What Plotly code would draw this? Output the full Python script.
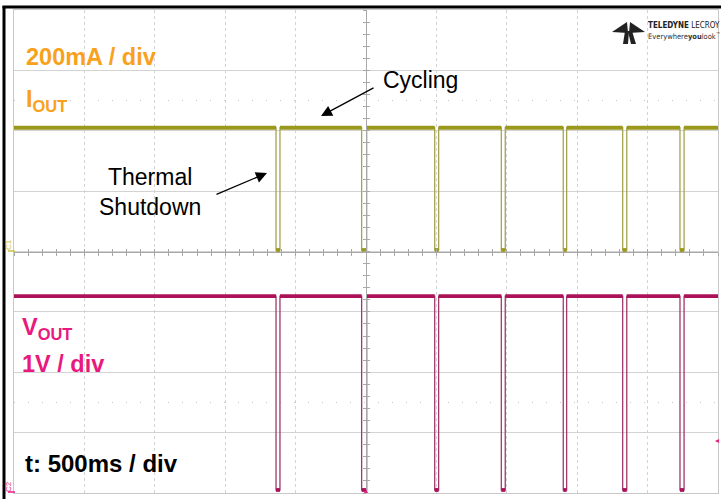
import plotly.graph_objects as go

# ---- data (read from the scope capture) ----
t_end = 5.0                      # s  (10 div x 500 ms)
dip_start = [1.861, 2.469, 2.988, 3.461, 3.901, 4.323, 4.730]   # s
dip_end = [1.889, 2.505, 3.016, 3.489, 3.925, 4.352, 4.759]     # s
iout_high = 0.41   # A
iout_low = 0.005   # A
vout_high = 3.21   # V
vout_low = 0.0     # V

IOUT_COLOR = "#9b991c"
IOUT_EDGE = "#a6a452"
VOUT_COLOR = "#ab1259"
VOUT_EDGE = "#a03a6e"
ORANGE = "#f9a11b"
MAGENTA = "#e8197e"
FONT = "Liberation Sans, Arial, sans-serif"


def waveform(hi, lo):
    t, y = [0.0], [hi]
    for s, e in zip(dip_start, dip_end):
        t += [s, s, e, e]
        y += [hi, lo, lo, hi]
    t.append(t_end)
    y.append(hi)
    return t, y


def flats(hi, lo):
    t, y = [], []
    prev = 0.0
    for s, e in zip(dip_start, dip_end):
        t += [prev, s, None, s, e, None]
        y += [hi, hi, None, lo, lo, None]
        prev = e
    t += [prev, t_end]
    y += [hi, hi]
    return t, y


fig = go.Figure()

ti, yi = waveform(iout_high, iout_low)
tf, yf = flats(iout_high, iout_low)
fig.add_trace(go.Scatter(x=ti, y=yi, mode="lines", line=dict(color=IOUT_EDGE, width=1.3),
                         yaxis="y", hoverinfo="skip", showlegend=False))
fig.add_trace(go.Scatter(x=tf, y=yf, mode="lines", line=dict(color=IOUT_COLOR, width=3.8),
                         yaxis="y", hoverinfo="skip", showlegend=False, connectgaps=False))

tv, yv = waveform(vout_high, vout_low)
tvf, yvf = flats(vout_high, vout_low)
fig.add_trace(go.Scatter(x=tv, y=yv, mode="lines", line=dict(color=VOUT_EDGE, width=1.3),
                         yaxis="y2", hoverinfo="skip", showlegend=False))
fig.add_trace(go.Scatter(x=tvf, y=yvf, mode="lines", line=dict(color=VOUT_COLOR, width=3.8),
                         yaxis="y2", hoverinfo="skip", showlegend=False, connectgaps=False))

L, R, T, B = 14, 3, 10, 6
W, H = 721, 499
PW, PH = W - L - R, H - T - B


def px(x):
    return (x - L) / PW


def py(y):
    return 1 - (y - T) / PH


grid = "#d3d3d3"
center = "#a8a8a8"

fig.update_layout(
    width=W, height=H,
    margin=dict(l=L, r=R, t=T, b=B, pad=0),
    paper_bgcolor="white", plot_bgcolor="white",
    font=dict(family=FONT),
    xaxis=dict(range=[0, t_end], dtick=0.5, tick0=0, showgrid=True, gridcolor=grid,
               griddash="dot", gridwidth=1, zeroline=False, showticklabels=False,
               ticks="", showline=True, linecolor="#c8c8c8", mirror=True, fixedrange=True),
    yaxis=dict(range=[-0.8, 0.8], dtick=0.2, tick0=0, showgrid=True, gridcolor=grid,
               zeroline=False, showticklabels=False, ticks="", showline=True,
               linecolor="#c8c8c8", mirror=True, fixedrange=True),
    yaxis2=dict(range=[-0.05, 7.95], overlaying="y", showgrid=False, zeroline=False,
                showticklabels=False, ticks="", visible=False, fixedrange=True),
    # centre cross with fine ticks
    xaxis2=dict(range=[0, t_end], overlaying="x", anchor="free", position=0.5,
                dtick=0.1, tick0=0, ticks="outside", ticklen=3, tickcolor=center,
                showline=True, linecolor=center, showgrid=False, zeroline=False,
                showticklabels=False, fixedrange=True),
    xaxis3=dict(range=[0, t_end], overlaying="x", anchor="free", position=0.5,
                dtick=0.1, tick0=0, ticks="inside", ticklen=3, tickcolor=center,
                showline=False, showgrid=False, zeroline=False,
                showticklabels=False, fixedrange=True),
    yaxis3=dict(range=[-0.8, 0.8], overlaying="y", anchor="free", position=0.5,
                dtick=0.04, tick0=0, ticks="outside", ticklen=3, tickcolor=center,
                showline=True, linecolor=center, showgrid=False, zeroline=False,
                showticklabels=False, fixedrange=True),
    yaxis4=dict(range=[-0.8, 0.8], overlaying="y", anchor="free", position=0.5,
                dtick=0.04, tick0=0, ticks="inside", ticklen=3, tickcolor=center,
                showline=False, showgrid=False, zeroline=False,
                showticklabels=False, fixedrange=True),
)
# dummy invisible traces to activate the centre axes
for xa, ya in [("x2", "y"), ("x3", "y"), ("x", "y3"), ("x", "y4")]:
    fig.add_trace(go.Scatter(x=[None], y=[None], xaxis=xa, yaxis=ya, showlegend=False,
                             hoverinfo="skip"))

shapes = []
# dotted rows
for yy in (0.8125, 0.1875):
    shapes.append(dict(type="line", xref="paper", yref="paper", x0=0, x1=1, y0=yy, y1=yy,
                       line=dict(color="#c4c4c4", width=1, dash="1px,13px"), layer="below"))
# black outer frame (left and top)
shapes.append(dict(type="line", xref="paper", yref="paper", x0=px(4), x1=px(4),
                   y0=py(6), y1=py(499), line=dict(color="black", width=3)))
shapes.append(dict(type="line", xref="paper", yref="paper", x0=px(2.5), x1=px(721),
                   y0=py(7), y1=py(7), line=dict(color="black", width=3)))
# channel ground markers
shapes.append(dict(type="line", xref="paper", yref="paper", x0=px(8), x1=px(15),
                   y0=py(251), y1=py(251), line=dict(color="#c8c040", width=1.5)))
shapes.append(dict(type="line", xref="paper", yref="paper", x0=px(8), x1=px(15),
                   y0=py(492), y1=py(492), line=dict(color=MAGENTA, width=1.5)))


# logo icon
def path(pts):
    return "M " + " L ".join(f"{px(a):.5f},{py(b):.5f}" for a, b in pts) + " Z"


logo_pts = [
    [(612, 32), (627, 22), (628, 33)],
    [(645, 32), (630, 22), (629, 33)],
    [(625, 31), (629, 31), (628, 44), (623, 44)],
    [(628, 31), (632, 31), (636, 44), (631, 44)],
]
for pts in logo_pts:
    shapes.append(dict(type="path", xref="paper", yref="paper", path=path(pts),
                       fillcolor="#222222", line=dict(width=0)))
fig.update_layout(shapes=shapes)

ann = []


def text(x, y, s, color, size, bold=False, xanchor="left", yanchor="middle", angle=0,
         family=FONT):
    ann.append(dict(x=px(x), y=py(y), xref="paper", yref="paper", text=(f"<b>{s}</b>" if bold else s),
                    showarrow=False, xanchor=xanchor, yanchor=yanchor, textangle=angle,
                    font=dict(color=color, size=size, family=family), align="center"))


text(24, 57, "200mA / div", ORANGE, 23.5, bold=True)
text(24, 100, "I<sub>OUT</sub>", ORANGE, 23.5, bold=True)
text(20, 328, "V<sub>OUT</sub>", MAGENTA, 23.5, bold=True)
text(20, 364, "1V / div", MAGENTA, 23.5, bold=True)
text(23, 463, "t: 500ms / div", "black", 24, bold=True)
text(381, 80, "Cycling", "black", 23)
text(150, 192, "Thermal<br>Shutdown", "black", 23, xanchor="center")
text(646, 26, "<b>TELEDYNE</b> LECROY", "#222222", 8,
     xanchor="left", family="DejaVu Sans Condensed, Liberation Sans Narrow, sans-serif")
text(646, 36, "Everywhere<b>you</b>look<sup>™</sup>", "#333333", 7.5,
     xanchor="left", family="DejaVu Sans Condensed, Liberation Sans Narrow, sans-serif")
text(8, 245, "C1", "#c8c040", 8, angle=-90, xanchor="center")
text(8, 487, "C2", MAGENTA, 8, angle=-90, xanchor="center")

# arrows (tip at x,y ; tail offset ax,ay in px)
ann.append(dict(x=px(321), y=py(116), xref="paper", yref="paper", text="", showarrow=True,
                ax=54, ay=-29, arrowhead=2, arrowsize=1.7, arrowwidth=1.3, arrowcolor="black"))
ann.append(dict(x=px(267), y=py(173), xref="paper", yref="paper", text="", showarrow=True,
                ax=-52, ay=22, arrowhead=2, arrowsize=1.7, arrowwidth=1.3, arrowcolor="black"))
# small markers at right edge / trigger
ann.append(dict(x=px(721), y=py(447), xref="paper", yref="paper", text="◂", showarrow=False,
                xanchor="right", font=dict(color=MAGENTA, size=8)))
ann.append(dict(x=px(366), y=py(497), xref="paper", yref="paper", text="▴", showarrow=False,
                font=dict(color=MAGENTA, size=8)))
fig.update_layout(annotations=ann)

fig.write_html("out.html", config={"displayModeBar": False, "staticPlot": True},
               post_script="document.body.style.margin='0';document.body.style.overflow='hidden';")
